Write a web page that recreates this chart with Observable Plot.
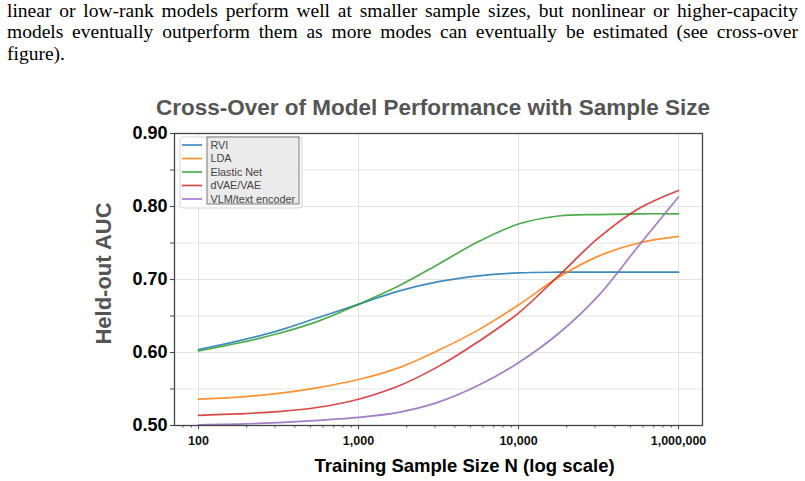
<!DOCTYPE html>
<html>
<head>
<meta charset="utf-8">
<script src="https://cdn.jsdelivr.net/npm/d3@7"></script>
<script src="https://cdn.jsdelivr.net/npm/@observablehq/plot@0.6"></script>
<style>
  body { margin: 0; background: #fff; width: 805px; height: 481px; overflow: hidden; position: relative; }
  #para { position: absolute; left: 7px; top: 0px; width: 791px;
          font-family: "Liberation Serif", "Times New Roman", serif; font-size: 19.5px; line-height: 21.3px; color: #000; }
  #para div { white-space: nowrap; }
  #para .j { text-align: justify; text-align-last: justify; }
  #title { position: absolute; left: 0; top: 95px; width: 866px; text-align: center;
           font-family: "Liberation Sans", Arial, sans-serif; font-weight: bold; font-size: 22.5px; color: #555; }
  #chart { position: absolute; left: 0; top: 90px; }
</style>
</head>
<body>
<div id="para">
  <div class="j">linear or low-rank models perform well at smaller sample sizes, but nonlinear or higher-capacity</div>
  <div class="j">models eventually outperform them as more modes can eventually be estimated (see cross-over</div>
  <div>figure).</div>
</div>
<div id="title">Cross-Over of Model Performance with Sample Size</div>
<div id="chart"></div>
<script>
// Training sample sizes (log-spaced, quarter decades)
const sizes = [100, 178, 316, 562, 1000, 1778, 3162, 5623, 10000, 17783, 31623, 56234, 100000];

// Held-out AUC per model
const rvi      = [0.604, 0.616, 0.630, 0.648, 0.666, 0.684, 0.697, 0.705, 0.709, 0.710, 0.710, 0.710, 0.710];
const lda      = [0.536, 0.539, 0.544, 0.552, 0.563, 0.579, 0.603, 0.631, 0.665, 0.703, 0.732, 0.750, 0.759];
const elastic  = [0.602, 0.613, 0.626, 0.643, 0.666, 0.691, 0.721, 0.752, 0.776, 0.787, 0.789, 0.790, 0.790];
const vae      = [0.514, 0.516, 0.519, 0.525, 0.536, 0.554, 0.581, 0.615, 0.654, 0.705, 0.757, 0.797, 0.822];
const vlm      = [0.501, 0.502, 0.504, 0.507, 0.511, 0.518, 0.532, 0.555, 0.586, 0.626, 0.678, 0.746, 0.813];

const models = ["RVI", "LDA", "Elastic Net", "dVAE/VAE", "VLM/text encoder"];
const series = [rvi, lda, elastic, vae, vlm];
const colors = ["#1f77b4", "#ff7f0e", "#2ca02c", "#d62728", "#9467bd"];

// Axis ticks and their printed labels
const xTicks = [100, 1000, 10000, 100000];
const xTickLabels = ["100", "1,000", "10,000", "1,000,000"];
const yTicks = [0.5, 0.6, 0.7, 0.8, 0.9];
const yMinorTicks = [0.55, 0.65, 0.75, 0.85];
const yLabel = "Held-out AUC";
const xLabel = "Training Sample Size N (log scale)";

const rows = models.flatMap((model, i) => sizes.map((n, j) => ({model, n, auc: series[i][j]})));

// log minor ticks (2..9 within each decade) inside the x domain
const xDomain = [10 ** 1.85, 10 ** 5.15];
const xMinor = [];
for (let e = 1; e <= 5; e++) for (let k = 2; k <= 9; k++) {
  const v = k * 10 ** e;
  if (v >= xDomain[0] && v <= xDomain[1]) xMinor.push(v);
}
const xLabelOf = new Map(xTicks.map((t, i) => [t, xTickLabels[i]]));

const W = 805, H = 391, mL = 174, mR = 103, mT = 43, mB = 56;
const sans = "Liberation Sans, Arial, sans-serif";

const plot = Plot.plot({
  width: W, height: H,
  marginLeft: mL, marginRight: mR, marginTop: mT, marginBottom: mB,
  style: {fontFamily: sans, background: "transparent", overflow: "visible"},
  x: {type: "log", domain: xDomain},
  y: {domain: [0.5, 0.9]},
  color: {domain: models, range: colors},
  marks: [
    Plot.gridY([...yTicks, ...yMinorTicks], {stroke: "#e4e4e4", strokeOpacity: 1, strokeWidth: 1}),
    Plot.gridX(xTicks, {stroke: "#e4e4e4", strokeOpacity: 1, strokeWidth: 1}),
    Plot.line(rows, {x: "n", y: "auc", z: "model", stroke: "model", strokeWidth: 1.7, strokeOpacity: 0.85, curve: "catmull-rom"}),
    Plot.frame({stroke: "#444", strokeWidth: 1.3}),
    Plot.axisX(xTicks, {tickSize: 4, tickPadding: 7, stroke: "#444", fill: "#111",
      tickFormat: d => xLabelOf.get(d), fontSize: 12.5, fontWeight: "bold", label: null}),
    Plot.axisX(xMinor, {tickSize: 2.5, stroke: "#444", tickFormat: () => "", label: null}),
    Plot.axisY(yTicks, {tickSize: 4, tickPadding: 3, stroke: "#444", fill: "#000",
      tickFormat: d3.format(".2f"), fontSize: 18, fontWeight: "bold", label: null}),
    Plot.axisY(yMinorTicks, {tickSize: 4, stroke: "#444", tickFormat: () => "", label: null}),
    Plot.text([yLabel], {frameAnchor: "left", dx: -71, dy: -6, rotate: -90, text: d => d,
      fontSize: 22, fontWeight: "bold", fill: "#555", textAnchor: "middle", lineAnchor: "middle"}),
    Plot.text([xLabel], {frameAnchor: "bottom", dx: 26, dy: 41, text: d => d,
      fontSize: 18.5, fontWeight: "bold", fill: "#000", textAnchor: "middle", lineAnchor: "middle"})
  ]
});

// In-plot legend, upper left corner of the frame
const svg = d3.select(plot);
const lg = svg.append("g").attr("transform", `translate(${mL + 6},${mT + 4})`)
  .style("font-family", sans).attr("text-anchor", "start");
lg.append("rect").attr("x", 0).attr("y", 0).attr("width", 122).attr("height", 71).attr("rx", 3)
  .attr("fill", "#fff").attr("fill-opacity", 0.85).attr("stroke", "#d4d4d4");
lg.append("rect").attr("x", 27).attr("y", 0).attr("width", 92).attr("height", 67)
  .attr("fill", "#ebebeb").attr("stroke", "#7a7a7a");
models.forEach((m, i) => {
  const y = 8 + i * 13.5;
  lg.append("line").attr("x1", 2).attr("x2", 22).attr("y1", y).attr("y2", y)
    .attr("stroke", colors[i]).attr("stroke-opacity", 0.85).attr("stroke-width", 1.7);
  lg.append("text").attr("x", 30.5).attr("y", y).attr("dy", "0.35em")
    .attr("text-anchor", "start").attr("font-size", 10.8).attr("fill", "#444").text(m);
});

document.getElementById("chart").appendChild(plot);
</script>
</body>
</html>
